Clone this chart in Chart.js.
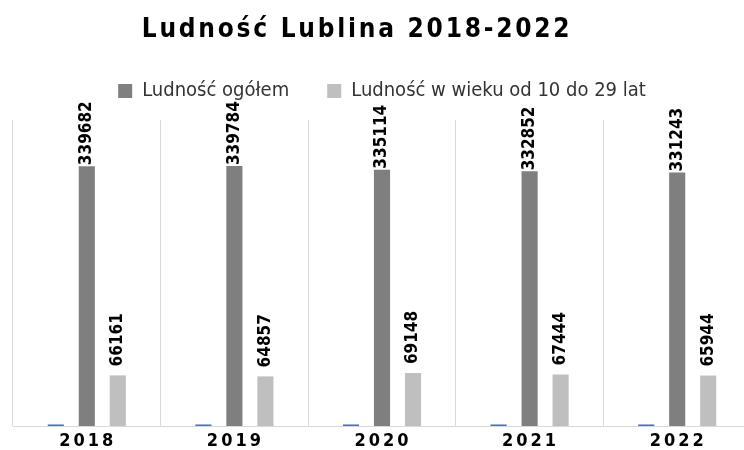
<!DOCTYPE html>
<html>
<head>
<meta charset="utf-8">
<script src="https://cdn.jsdelivr.net/npm/chart.js@4"></script>
<style>
  html, body { margin: 0; padding: 0; background: #fff; overflow: hidden; }
  #wrap { width: 751px; height: 450px; }
</style>
</head>
<body>
<div id="wrap"><canvas id="wykres"></canvas></div>
<script>
const lata = ["2018", "2019", "2020", "2021", "2022"];
const rok = [2018, 2019, 2020, 2021, 2022];
const ludnoscOgolem = [339682, 339784, 335114, 332852, 331243];
const ludnoscMlodzi = [66161, 64857, 69148, 67444, 65944];

const fontNarrow = "'DejaVu Sans Condensed', sans-serif";

// etykiety wartosci pionowo nad slupkami
const etykiety = {
  id: "etykiety",
  afterDatasetsDraw(chart) {
    const ctx = chart.ctx;
    [1, 2].forEach(i => {
      const meta = chart.getDatasetMeta(i);
      const odstep = i === 1 ? 1 : 9;
      meta.data.forEach((bar, j) => {
        ctx.save();
        ctx.translate(bar.x, bar.y - odstep);
        ctx.rotate(-Math.PI / 2);
        ctx.font = "bold 17px 'DejaVu Sans Condensed', sans-serif";
        ctx.fillStyle = "#000";
        ctx.textAlign = "left";
        ctx.textBaseline = "middle";
        ctx.fillText(String(chart.data.datasets[i].data[j]), 0, 0);
        ctx.restore();
      });
    });
  }
};

// rozstrzelony tekst tytulu i osi X
const rozstrzelenie = {
  id: "rozstrzelenie",
  beforeDraw(chart) {
    const t = chart.titleBlock;
    if (t && !t._rozstrz) {
      const draw = t.draw.bind(t);
      t.draw = function (area) {
        chart.ctx.save();
        chart.ctx.letterSpacing = "2.75px";
        chart.ctx.translate(-25, 0);
        draw(area);
        chart.ctx.restore();
      };
      t._rozstrz = true;
    }
    const x = chart.scales.x;
    if (x && !x._rozstrz) {
      const drawLabels = x.drawLabels.bind(x);
      x.drawLabels = function (area) {
        chart.ctx.save();
        chart.ctx.letterSpacing = "3px";
        chart.ctx.translate(1, 0);
        drawLabels(area);
        chart.ctx.restore();
      };
      x._rozstrz = true;
    }
  }
};

new Chart(document.getElementById("wykres"), {
  type: "bar",
  data: {
    labels: lata,
    datasets: [
      { label: "Rok", data: rok, backgroundColor: "#4472c4" },
      { label: "Ludność ogółem", data: ludnoscOgolem, backgroundColor: "#7f7f7f" },
      { label: "Ludność w wieku od 10 do 29 lat", data: ludnoscMlodzi, backgroundColor: "#bfbfbf" }
    ]
  },
  options: {
    responsive: true,
    maintainAspectRatio: false,
    animation: false,
    categoryPercentage: 0.63,
    barPercentage: 0.52,
    layout: { padding: { left: 13, right: 0, top: 0, bottom: 0 } },
    plugins: {
      title: {
        display: true,
        text: "Ludność Lublina 2018-2022",
        color: "#000",
        font: { family: fontNarrow, size: 26, weight: "bold", lineHeight: 1 },
        padding: { top: 17, bottom: 0 }
      },
      legend: {
        position: "top",
        labels: {
          color: "#333",
          font: { family: fontNarrow, size: 20 },
          boxWidth: 14,
          boxHeight: 14,
          padding: 38,
          filter: item => item.datasetIndex !== 0
        }
      },
      // pusty odstep miedzy legenda a wykresem
      subtitle: {
        display: true,
        text: "",
        weight: 500,
        font: { size: 9, lineHeight: 1 },
        padding: 0
      },
      tooltip: { enabled: false }
    },
    scales: {
      x: {
        grid: { color: "#d9d9d9", lineWidth: 1, drawTicks: false },
        border: { color: "#d9d9d9" },
        ticks: {
          color: "#000",
          font: { family: fontNarrow, size: 18, weight: "bold", lineHeight: 1 },
          padding: 6
        },
        afterFit: s => { s.height = 24; }
      },
      y: {
        display: false,
        min: 0,
        max: 400000
      }
    }
  },
  plugins: [etykiety, rozstrzelenie]
});
</script>
</body>
</html>
